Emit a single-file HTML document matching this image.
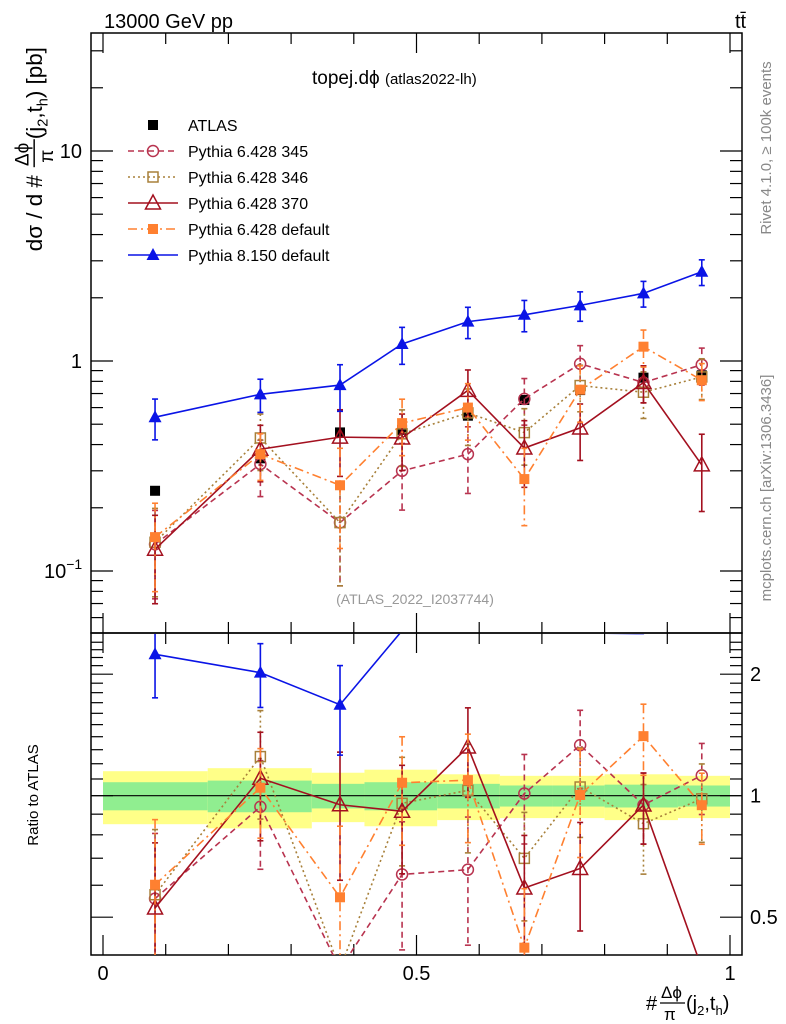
<!DOCTYPE html>
<html><head><meta charset="utf-8">
<style>
html,body{margin:0;padding:0;background:#fff;width:786px;height:1024px;overflow:hidden;}
svg{display:block;font-family:"Liberation Sans",sans-serif;}
</style></head>
<body>
<svg id="chart" width="786" height="1024" viewBox="0 0 786 1024" xmlns="http://www.w3.org/2000/svg">
<text x="104" y="28" font-size="20">13000 GeV pp</text>
<text x="735" y="28" font-size="20">tt̄</text>
<text x="312" y="84" font-size="19">topej.dϕ <tspan font-size="15">(atlas2022-lh)</tspan></text>
<text x="415" y="604" font-size="14" fill="#999" text-anchor="middle">(ATLAS_2022_I2037744)</text>
<g transform="translate(42,128) rotate(-90) scale(1.12)" font-size="20">
  <text x="-110" y="0">dσ / d #</text>
  <text x="-34" y="-12" font-size="17">Δϕ</text>
  <line x1="-35" x2="-10" y1="-7" y2="-7" stroke="#000" stroke-width="1.3"/>
  <text x="-31" y="10" font-size="17">π</text>
  <text x="-10" y="0">(j<tspan font-size="13" dy="5">2</tspan><tspan dy="-5">,t</tspan><tspan font-size="13" dy="5">h</tspan><tspan dy="-5">) [pb]</tspan></text>
</g>
<text transform="translate(38,795) rotate(-90)" font-size="15" text-anchor="middle">Ratio to ATLAS</text>
<text transform="translate(771,148) rotate(-90)" font-size="15" fill="#888" text-anchor="middle">Rivet 4.1.0, ≥ 100k events</text>
<text transform="translate(771,488) rotate(-90)" font-size="15" fill="#888" text-anchor="middle">mcplots.cern.ch [arXiv:1306.3436]</text>
<g font-size="20">
  <text x="646" y="1010">#</text>
  <text x="661" y="998" font-size="17">Δϕ</text>
  <line x1="660" x2="685" y1="1003" y2="1003" stroke="#000" stroke-width="1.3"/>
  <text x="664" y="1020" font-size="17">π</text>
  <text x="686" y="1010">(j<tspan font-size="13" dy="5">2</tspan><tspan dy="-5">,t</tspan><tspan font-size="13" dy="5">h</tspan><tspan dy="-5">)</tspan></text>
</g>
<g id="g"></g>
</svg>
<script>
const centers = [0.083,0.251,0.378,0.477,0.582,0.672,0.761,0.862,0.955];
const edges = [0,0.167,0.333,0.417,0.533,0.633,0.717,0.8,0.917,1.0];
const atlas = [0.241,0.344,0.457,0.47,0.549,0.652,0.727,0.833,0.855];
const bandYellow = [0.15,0.17,0.14,0.16,0.13,0.12,0.12,0.13,0.12];
const bandGreen = [0.08,0.09,0.07,0.08,0.07,0.06,0.06,0.065,0.06];
const p345 = [0.134,0.323,0.17,0.30,0.36,0.66,0.97,0.79,0.96];
const p345err = [0.45,0.3,0.5,0.35,0.35,0.25,0.22,0.2,0.2];
const p346 = [0.137,0.43,0.17,0.45,0.566,0.456,0.764,0.71,0.84];
const p346err = [0.45,0.3,0.5,0.3,0.3,0.3,0.25,0.25,0.22];
const p370 = [0.127,0.38,0.434,0.43,0.725,0.385,0.48,0.79,0.32];
const p370err = [0.45,0.3,0.35,0.3,0.25,0.35,0.3,0.2,0.4];
const pdef = [0.145,0.36,0.256,0.506,0.60,0.274,0.73,1.17,0.81];
const pdeferr = [0.45,0.25,0.5,0.3,0.3,0.4,0.3,0.2,0.2];
const p8 = [0.54,0.694,0.768,1.205,1.54,1.66,1.84,2.1,2.66];
const p8err = [0.22,0.18,0.25,0.2,0.17,0.17,0.16,0.14,0.14];

const NS="http://www.w3.org/2000/svg";
const G=document.getElementById('g');
const L=91,R=742,T=33,M=633,B=955;
const X=v=>103+627*v;
const Y=v=>361-210*Math.log10(v);
const YR=r=>795.7-121.5*Math.log2(r);
function el(t,a,p){const e=document.createElementNS(NS,t);for(const k in a)e.setAttribute(k,a[k]);(p||G).appendChild(e);return e;}

const defs=el('defs',{});
const c1=el('clipPath',{id:'cm'},defs);el('rect',{x:L,y:T,width:R-L,height:M-T},c1);
const c2=el('clipPath',{id:'cr'},defs);el('rect',{x:L,y:M+1,width:R-L,height:B-M-1},c2);

const gb=el('g',{'clip-path':'url(#cr)'});
for(let i=0;i<centers.length;i++){
  const y1=el('rect',{x:X(edges[i]),width:X(edges[i+1])-X(edges[i]),y:YR(1+bandYellow[i]),height:YR(1-bandYellow[i])-YR(1+bandYellow[i]),fill:'#ffff88'},gb);
  
  
  const g1=el('rect',{x:X(edges[i]),width:X(edges[i+1])-X(edges[i]),y:YR(1+bandGreen[i]),height:YR(1-bandGreen[i])-YR(1+bandGreen[i]),fill:'#90ee90'},gb);
  
  
}
el('line',{x1:L,x2:R,y1:YR(1),y2:YR(1),stroke:'#000','stroke-width':1.2});

const f1=el('rect',{x:L,y:T,width:R-L,height:M-T,fill:'none',stroke:'#000','stroke-width':1.5});


const f2=el('rect',{x:L,y:M,width:R-L,height:B-M,fill:'none',stroke:'#000','stroke-width':1.5});



for(let k=0;k<=10;k++){
  const v=k/10,x=X(v),len=(k%5==0)?20:11;
  [[M,-1],[T,1],[B,-1],[M,1]].forEach(([y0,d])=>el('line',{x1:x,x2:x,y1:y0,y2:y0+d*len,stroke:'#000','stroke-width':1.2}));
}
[['0',0],['0.5',0.5],['1',1]].forEach(([t,v])=>{const e=el('text',{x:X(v),y:980,'font-size':20,'text-anchor':'middle'});e.textContent=t;

});

for(let d=-2;d<=1;d++){for(let m=1;m<10;m++){const v=m*Math.pow(10,d);const y=Y(v);if(y<T||y>M)continue;const len=m==1?22:12;
el('line',{x1:L,x2:L+len,y1:y,y2:y,stroke:'#000','stroke-width':1.2});el('line',{x1:R,x2:R-len,y1:y,y2:y,stroke:'#000','stroke-width':1.2});}}
[['10',10],['1',1]].forEach(([t,v])=>{const e=el('text',{x:82,y:Y(v)+7,'font-size':20,'text-anchor':'end'});e.textContent=t;

});
{const e=el('text',{x:44,y:Y(0.1)+7,'font-size':20});e.innerHTML='10<tspan font-size="14" dy="-9">−1</tspan>';

}
for(let r=0.4;r<=2.5;r+=0.1){const y=YR(r);if(y<M||y>B)continue;const maj=Math.abs(r-0.5)<1e-6||Math.abs(r-1)<1e-6||Math.abs(r-2)<1e-6;const len=maj?22:12;
el('line',{x1:L,x2:L+len,y1:y,y2:y,stroke:'#000','stroke-width':1.2});el('line',{x1:R,x2:R-len,y1:y,y2:y,stroke:'#000','stroke-width':1.2});}
[['2',2],['1',1],['0.5',0.5]].forEach(([t,v])=>{const e=el('text',{x:750,y:YR(v)+7,'font-size':20});e.textContent=t;

});

function marker(kind,x,y,col,p){
  if(kind=='fsq')return el('rect',{x:x-5,y:y-5,width:10,height:10,fill:col},p);
  if(kind=='osq')return el('rect',{x:x-5,y:y-5,width:10,height:10,fill:'none',stroke:col,'stroke-width':1.5},p);
  if(kind=='ocirc')return el('circle',{cx:x,cy:y,r:5.5,fill:'none',stroke:col,'stroke-width':1.5},p);
  if(kind=='otri')return el('path',{d:`M${x},${y-8}L${x+7.5},${y+6}L${x-7.5},${y+6}Z`,fill:'none',stroke:col,'stroke-width':1.5},p);
  if(kind=='ftri')return el('path',{d:`M${x},${y-7}L${x+6.5},${y+5}L${x-6.5},${y+5}Z`,fill:col},p);
}
const series=[
 {name:'pythia-6428-345',vals:p345,err:p345err,col:'#b8334f',dash:'6,4',mk:'ocirc'},
 {name:'pythia-6428-346',vals:p346,err:p346err,col:'#a8803a',dash:'2,3',mk:'osq'},
 {name:'pythia-6428-370',vals:p370,err:p370err,col:'#a3101f',dash:'',mk:'otri'},
 {name:'pythia-6428-default',vals:pdef,err:pdeferr,col:'#ff8030',dash:'9,4,2,4',mk:'fsq'},
 {name:'pythia-8150-default',vals:p8,err:p8err,col:'#0a14e6',dash:'',mk:'ftri'}
];
function drawSeries(s,ratio){
  const gp=el('g',{'clip-path':ratio?'url(#cr)':'url(#cm)'});
  
  
  const yf=ratio?(v,i)=>YR(v/atlas[i]):(v,i)=>Y(v);
  const top=ratio?M+8:T, bot=ratio?B:M;
  const pts=s.vals.map((v,i)=>[X(centers[i]),yf(v,i)]);
  el('polyline',{points:pts.map(p=>p.join(',')).join(' '),fill:'none',stroke:s.col,'stroke-width':1.6,'stroke-dasharray':s.dash},gp);
  s.vals.forEach((v,i)=>{
    const x=X(centers[i]);const yc=yf(v,i);
    if(yc<top||yc>bot) return;
    const lo=Math.max(v*(1-s.err[i]),1e-3),hi=v*(1+s.err[i]);
    const y1=yf(hi,i),y2=yf(lo,i);
    el('line',{x1:x,x2:x,y1:y1,y2:y2,stroke:s.col,'stroke-width':1.6,'stroke-dasharray':s.dash},gp);
    el('line',{x1:x-3,x2:x+3,y1:y1,y2:y1,stroke:s.col,'stroke-width':1.6},gp);
    el('line',{x1:x-3,x2:x+3,y1:y2,y2:y2,stroke:s.col,'stroke-width':1.6},gp);
    const m=marker(s.mk,x,yc,s.col,gp);
    
    
  });
}
{const gp=el('g',{'clip-path':'url(#cm)'});
 
 
 atlas.forEach((v,i)=>{const m=marker('fsq',X(centers[i]),Y(v),'#000',gp);
 
 });}
series.forEach(s=>{drawSeries(s,false);drawSeries(s,true);});

const lg=el('g',{});


const labels=['ATLAS','Pythia 6.428 345','Pythia 6.428 346','Pythia 6.428 370','Pythia 6.428 default','Pythia 8.150 default'];
labels.forEach((t,i)=>{
  const y=125+26*i;
  const ge=el('g',{},lg);
  
  
  if(i==0){marker('fsq',153,y,'#000',ge);}
  else{const s=series[i-1];el('line',{x1:128,x2:178,y1:y,y2:y,stroke:s.col,'stroke-width':1.5,'stroke-dasharray':s.dash},ge);marker(s.mk,153,y,s.col,ge);}
  const tx=el('text',{x:188,y:y+6,'font-size':16},ge);tx.textContent=t;
});
</script>
</body></html>
